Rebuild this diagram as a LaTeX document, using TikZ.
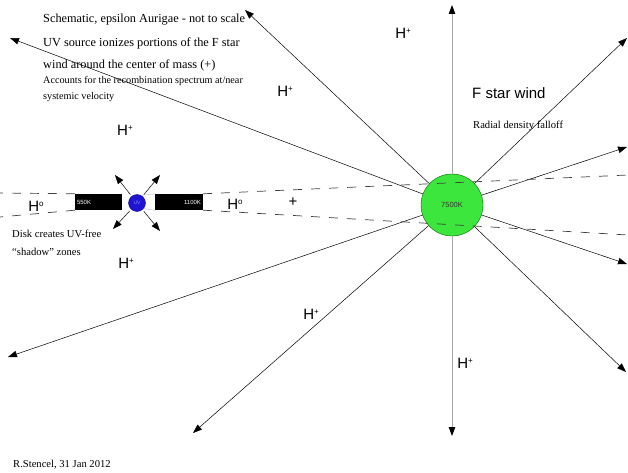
\documentclass[tikz,border=0pt]{standalone}
\usepackage{fontspec}
\setmainfont{Liberation Serif}
\setsansfont{Liberation Sans}
\usetikzlibrary{arrows.meta}
\definecolor{fstar}{RGB}{61,230,61}
\definecolor{uvblue}{RGB}{30,20,210}
\newcommand{\hion}[1]{H\raisebox{.32em}{\fontsize{8}{8}\selectfont #1}}

\begin{document}
\begin{tikzpicture}[x=1pt,y=-1pt,
    ray/.style={-{Triangle[length=9pt,width=6.5pt,color=black]}, line width=.5pt},
    vray/.style={ray, draw=gray!70, line width=1pt},
    shadow/.style={dash pattern=on 9pt off 9pt, draw=black!75, line width=.7pt},
    ion/.style={font=\sffamily\fontsize{15}{15}\selectfont, inner sep=0pt},
    note/.style={anchor=west, inner sep=0pt, font=\fontsize{12.3}{12.3}\selectfont},
    small/.style={anchor=west, inner sep=0pt, font=\fontsize{10.6}{10.6}\selectfont},
    tiny/.style={inner sep=0pt, font=\sffamily\fontsize{6}{6}\selectfont}]

        \useasboundingbox (0,0) rectangle (628,473);

         % F star
        \node[circle, draw=green!40!black, fill=fstar, minimum size=62pt, inner sep=0pt,
              font=\sffamily\fontsize{7.5}{7.5}\selectfont, text=black!80] (star) at (452,205) {7500K};

         % wind
        \foreach \n/\x/\y in {wa/10/38, wb/245/10, wd/627/38, we/627/147,
                              wf/627/264, wg/626/372, wi/193/433, wj/8/357}
          { \coordinate (\n) at (\x,\y); \draw[ray] (star) -- (\n); }
        \coordinate (wc) at (452,5);
        \coordinate (wh) at (452,436);
        \draw[vray] (star) -- (wc);
        \draw[vray] (star) -- (wh);

         % disk + UV source
        \node[fill=black, minimum width=47pt, minimum height=16pt, inner sep=0pt] (diskL) at (98.5,202) {};
        \node[fill=black, minimum width=48pt, minimum height=16pt, inner sep=0pt] (diskR) at (179,202) {};
        \node[tiny, text=white, anchor=west] (t550) at ([xshift=2pt]diskL.west) {550K};
        \node[tiny, text=white, anchor=east] (t1100) at ([xshift=-2pt]diskR.east) {1100K};
        \node[circle, fill=uvblue, draw=uvblue!70!black, minimum size=17pt, inner sep=0pt,
              font=\sffamily\fontsize{5}{5}\selectfont, text=blue!45!white] (uv) at (137,203) {UV};
        \draw[gray!60, line width=.4pt] (uv.60) -- (diskR.north west);
        \draw[gray!60, line width=.4pt] (uv.-40) -- (diskR.south west);
        \foreach \n/\x/\y in {ua/115/175, ub/160/175, uc/113/229, ud/160/231}
          { \coordinate (\n) at (\x,\y); \draw[ray, shorten <=2pt] (uv) -- (\n); }

         % shadow zones
        \coordinate (sa) at (628,175);
        \coordinate (sb) at (628,235);
        \coordinate (sc) at (0,193);
        \coordinate (sd) at (0,217);
        \draw[shadow] (diskR.north east) -- (sa);
        \draw[shadow] (diskR.south east) -- (sb);
        \draw[shadow] (diskL.north west) -- (sc);
        \draw[shadow] (diskL.south west) -- (sd);

         % ions
        \node[ion] (h1) at (403,33) {\hion{+}};
        \node[ion] (h2) at (285,91) {\hion{+}};
        \node[ion] (h3) at (125,130) {\hion{+}};
        \node[ion] (h4) at (126,263) {\hion{+}};
        \node[ion] (h5) at (311,314) {\hion{+}};
        \node[ion] (h6) at (465,363) {\hion{+}};
        \node[ion] (h7) at (36,206) {\hion{o}};
        \node[ion] (h8) at (235,204) {\hion{o}};
        \node[ion] (cm) at (293,202) {+};

         % notes
        \node[note] (n1) at (43,20) {Schematic, epsilon Aurigae - not to scale};
        \node[note] (n2) at (43,43) {UV source ionizes portions of the F star};
        \node[note] (n3) at (43,65) {wind around the center of mass (+)};
        \node[small, font=\fontsize{10.2}{10.2}\selectfont] (n4) at (43,81) {Accounts for the recombination spectrum at/near};
        \node[small, font=\fontsize{10.2}{10.2}\selectfont] (n5) at (43,97) {systemic velocity};
        \node[small] (n6) at (12,234) {Disk creates UV-free};
        \node[small] (n7) at (12,252) {“shadow” zones};
        \node[anchor=west, inner sep=0pt, font=\sffamily\fontsize{15}{15}\selectfont] (fw) at (472,93) {F star wind};
        \node[small] (rd) at (473,126) {Radial density falloff};
        \node[small] (by) at (13,465) {R.Stencel, 31 Jan 2012};
      \end{tikzpicture}
\end{document}
